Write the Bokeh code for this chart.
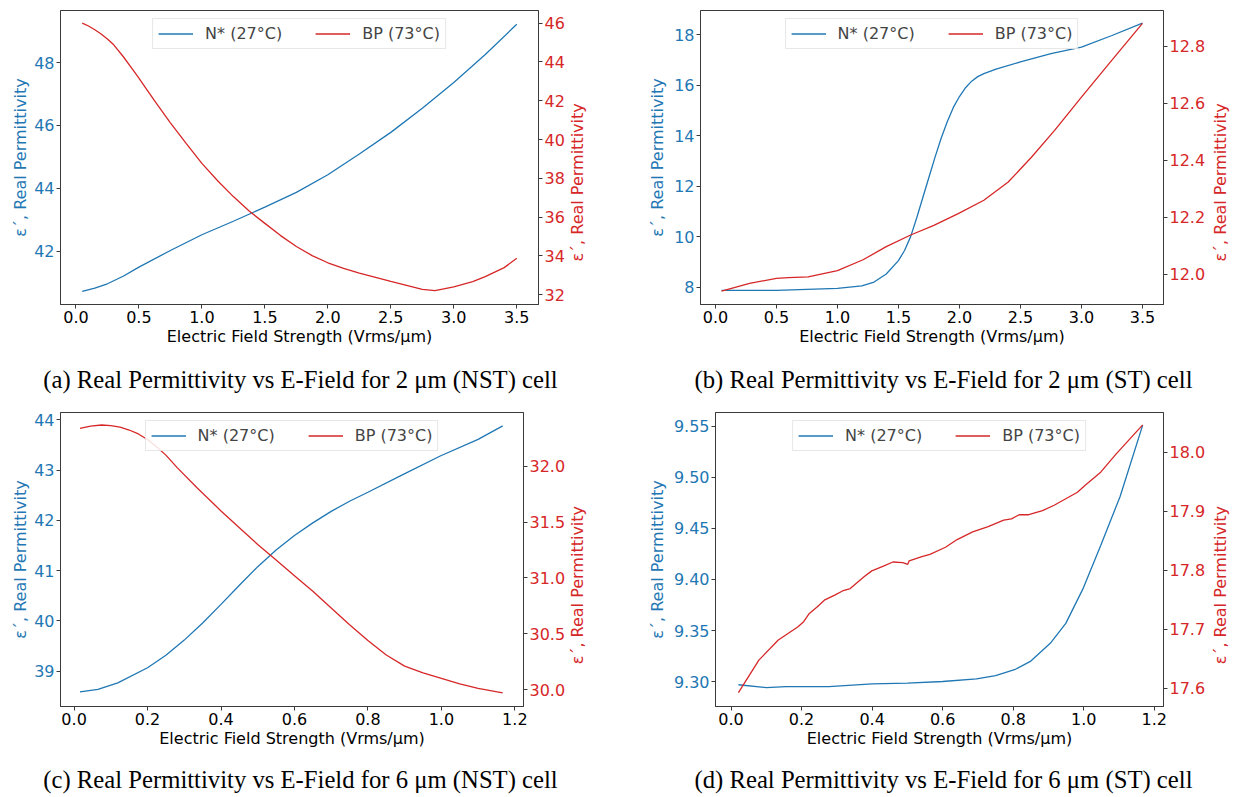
import math
from bokeh.plotting import figure
from bokeh.models import Range1d, LinearAxis, FixedTicker, Legend, LegendItem, PrintfTickFormatter, Label
from bokeh.layouts import column, row
from bokeh.embed import file_html
from bokeh.resources import INLINE

BLUE = "#1f77b4"
RED = "#d62728"

# ---------------- data ----------------
a_x_n = [0.05, 0.15, 0.25, 0.375, 0.5, 0.75, 1.0, 1.25, 1.5, 1.75, 2.0, 2.25, 2.5, 2.75, 3.0, 3.25, 3.5]
a_n = [40.72, 40.82, 40.96, 41.20, 41.49, 42.02, 42.52, 42.95, 43.40, 43.87, 44.43, 45.09, 45.78, 46.55,
       47.37, 48.26, 49.22]
a_x_bp = [0.05, 0.1, 0.15, 0.2, 0.25, 0.3, 0.375, 0.45, 0.5, 0.56, 0.625, 0.75, 0.875, 1.0, 1.125, 1.25,
          1.375, 1.5, 1.625, 1.75, 1.875, 2.0, 2.125, 2.25, 2.5, 2.75, 2.85, 3.0, 3.15, 3.25, 3.4, 3.5]
a_bp = [46.0, 45.85, 45.66, 45.44, 45.18, 44.88, 44.28, 43.62, 43.16, 42.6, 41.99, 40.86, 39.8, 38.77,
        37.88, 37.06, 36.32, 35.68, 35.05, 34.49, 34.02, 33.65, 33.36, 33.12, 32.69, 32.28, 32.22, 32.41,
        32.68, 32.94, 33.4, 33.88]

b_x_n = [0.05, 0.5, 1.0, 1.2, 1.3, 1.4, 1.5, 1.55, 1.6, 1.65, 1.7, 1.75, 1.8, 1.85, 1.9, 1.95, 2.0, 2.05,
         2.1, 2.15, 2.2, 2.3, 2.5, 2.75, 3.0, 3.25, 3.5]
b_n = [7.87, 7.87, 7.95, 8.05, 8.2, 8.52, 9.05, 9.45, 10.0, 10.75, 11.55, 12.35, 13.15, 13.9, 14.55,
       15.12, 15.55, 15.9, 16.16, 16.34, 16.46, 16.64, 16.92, 17.25, 17.51, 17.97, 18.46]
b_x_bp = [0.05, 0.28, 0.5, 0.6, 0.76, 1.0, 1.21, 1.4, 1.6, 1.79, 1.99, 2.2, 2.4, 2.59, 2.78, 3.0, 3.26, 3.5]
b_bp = [11.94, 11.967, 11.985, 11.987, 11.99, 12.012, 12.05, 12.096, 12.137, 12.171, 12.212, 12.259,
        12.323, 12.41, 12.504, 12.621, 12.756, 12.88]

c_x_n = [0.016, 0.065, 0.119, 0.2, 0.25, 0.3, 0.35, 0.4, 0.45, 0.5, 0.55, 0.6, 0.65, 0.7, 0.75, 0.8, 0.895,
         0.997, 1.1, 1.167]
c_n = [38.59, 38.64, 38.77, 39.07, 39.32, 39.62, 39.96, 40.33, 40.71, 41.08, 41.41, 41.70, 41.95, 42.18,
       42.38, 42.56, 42.91, 43.28, 43.61, 43.88]
c_x_bp = [0.016, 0.045, 0.075, 0.1, 0.125, 0.15, 0.175, 0.2, 0.226, 0.25, 0.28, 0.334, 0.4, 0.45, 0.5,
          0.55, 0.6, 0.65, 0.7, 0.75, 0.8, 0.85, 0.9, 0.95, 1.0, 1.05, 1.1, 1.167]
c_bp = [32.34, 32.36, 32.37, 32.365, 32.35, 32.325, 32.29, 32.24, 32.17, 32.10, 31.99, 31.81, 31.60,
        31.45, 31.30, 31.16, 31.02, 30.88, 30.73, 30.58, 30.44, 30.31, 30.21, 30.15, 30.10, 30.05,
        30.01, 29.97]

d_x_n = [0.021, 0.10, 0.156, 0.277, 0.4, 0.5, 0.6, 0.696, 0.75, 0.806, 0.85, 0.905, 0.949, 0.999, 1.048,
         1.103, 1.167]
d_n = [9.2968, 9.294, 9.2949, 9.2949, 9.2977, 9.2984, 9.300, 9.3026, 9.3058, 9.312, 9.320, 9.3374, 9.357,
       9.3918, 9.4334, 9.4814, 9.5513]
d_x_bp = [0.021, 0.079, 0.134, 0.189, 0.206, 0.222, 0.244, 0.266, 0.294, 0.316, 0.338, 0.377, 0.399, 0.432,
          0.459, 0.487, 0.501, 0.505, 0.541, 0.564, 0.608, 0.641, 0.685, 0.729, 0.773, 0.795, 0.817, 0.844,
          0.883, 0.916, 0.949, 0.982, 1.004, 1.048, 1.092, 1.167]
d_bp = [17.593, 17.648, 17.682, 17.704, 17.713, 17.727, 17.738, 17.75, 17.758, 17.765, 17.769, 17.789,
        17.799, 17.807, 17.814, 17.813, 17.810, 17.816, 17.823, 17.827, 17.839, 17.852, 17.865, 17.874,
        17.885, 17.887, 17.894, 17.894, 17.901, 17.910, 17.921, 17.932, 17.944, 17.966, 17.997, 18.046]

x_ticks_2um = [0.0, 0.5, 1.0, 1.5, 2.0, 2.5, 3.0, 3.5]
x_ticks_6um = [0.0, 0.2, 0.4, 0.6, 0.8, 1.0, 1.2]
a_left_ticks = [42, 44, 46, 48]
a_right_ticks = [32, 34, 36, 38, 40, 42, 44, 46]
b_left_ticks = [8, 10, 12, 14, 16, 18]
b_right_ticks = [12.0, 12.2, 12.4, 12.6, 12.8]
c_left_ticks = [39, 40, 41, 42, 43, 44]
c_right_ticks = [30.0, 30.5, 31.0, 31.5, 32.0]
d_left_ticks = [9.30, 9.35, 9.40, 9.45, 9.50, 9.55]
d_right_ticks = [17.6, 17.7, 17.8, 17.9, 18.0]

series_labels = ["N* (27°C)", "BP (73°C)"]
x_label = "Electric Field Strength (Vrms/μm)"
y_label = "ε´, Real Permittivity"
captions = [
    "(a) Real Permittivity vs E-Field for 2 μm (NST) cell",
    "(b) Real Permittivity vs E-Field for 2 μm (ST) cell",
    "(c) Real Permittivity vs E-Field for 6 μm (NST) cell",
    "(d) Real Permittivity vs E-Field for 6 μm (ST) cell",
]

FONT = "DejaVu Sans"
FS = "16px"
SPINE = "#3a3a3a"


def style_axis(ax, color_labels, color_text):
    ax.major_label_text_font = FONT
    ax.major_label_text_font_size = FS
    ax.major_label_text_color = color_labels
    ax.axis_label_text_font = FONT
    ax.axis_label_text_font_size = FS
    ax.axis_label_text_font_style = "normal"
    ax.axis_label_text_color = color_text
    ax.axis_line_color = SPINE
    ax.major_tick_line_color = SPINE
    ax.major_tick_in = 0
    ax.major_tick_out = 4
    ax.minor_tick_line_color = None
    ax.major_label_standoff = 2
    ax.axis_label_standoff = 4


def blank(w, h, bt=0, bb=0):
    s = figure(width=w, height=h, x_range=Range1d(0, w), y_range=Range1d(0, h),
               output_backend="svg", toolbar_location=None,
               x_axis_location=None, y_axis_location=None,
               min_border_left=0, min_border_right=0, min_border_top=bt, min_border_bottom=bb)
    s.grid.visible = False
    s.outline_line_color = None
    s.background_fill_color = "white"
    s.border_fill_color = "white"
    return s


def panel(xn, yn, xb, yb, xr, yl, yr, xt, lt, rt, lfmt, rfmt, xfmt, w, h, bl, br, bt, bb, lstand):
    p = figure(width=w, height=h, x_range=Range1d(*xr), y_range=Range1d(*yl),
               output_backend="svg", toolbar_location=None,
               min_border_left=bl, min_border_right=br, min_border_top=bt, min_border_bottom=bb)
    p.extra_y_ranges = {"r": Range1d(*yr)}
    p.xgrid.visible = False
    p.ygrid.visible = False
    p.outline_line_color = SPINE
    p.outline_line_width = 1
    p.background_fill_color = "white"
    p.border_fill_color = "white"

    r1 = p.line(xn, yn, line_color=BLUE, line_width=1.3)
    r2 = p.line(xb, yb, line_color=RED, line_width=1.3, y_range_name="r")

    xa = p.xaxis[0]
    xa.ticker = FixedTicker(ticks=xt)
    xa.formatter = PrintfTickFormatter(format=xfmt)
    xa.axis_label = x_label
    style_axis(xa, "black", "black")
    xa.axis_label_standoff = 1

    ya = p.yaxis[0]
    ya.ticker = FixedTicker(ticks=lt)
    ya.formatter = PrintfTickFormatter(format=lfmt)
    ya.axis_label = y_label
    style_axis(ya, BLUE, BLUE)
    ya.axis_label_standoff = lstand

    ra = LinearAxis(y_range_name="r", ticker=FixedTicker(ticks=rt),
                    formatter=PrintfTickFormatter(format=rfmt))
    style_axis(ra, RED, RED)
    p.add_layout(ra, "right")

    leg = Legend(items=[LegendItem(label=series_labels[0], renderers=[r1]),
                        LegendItem(label=series_labels[1], renderers=[r2])],
                 location="top_center", orientation="horizontal")
    leg.label_text_font = FONT
    leg.label_text_font_size = FS
    leg.glyph_width = 35
    leg.glyph_height = 17
    leg.label_height = 17
    leg.label_standoff = 12
    leg.spacing = 33
    leg.padding = 5
    leg.margin = 8
    leg.border_line_color = "#d0d0d0"
    leg.border_line_width = 1
    leg.background_fill_alpha = 0.85
    p.add_layout(leg)
    return p


def right_label_strip(w, h, bt, bb, off):
    # narrow strip holding the right-hand axis title, reading bottom-to-top
    s = blank(w, h, bt, bb)
    s.add_layout(Label(x=0, y=(h - bt - bb) / 2, x_offset=off, text=y_label, angle=math.pi / 2,
                       text_align="center", text_baseline="middle",
                       text_font=FONT, text_font_size=FS, text_color=RED))
    return s


def caption_strip(w, h, text, cx, cy):
    s = blank(w, h)
    s.add_layout(Label(x=cx, y=cy, text=text, text_align="center", text_baseline="middle",
                       text_font="Liberation Serif", text_font_size="24.7px", text_color="black"))
    return s


TOP_H = 354
BOT_H = 356

pa = panel(a_x_n, a_n, a_x_bp, a_bp, (-0.1225, 3.6725), (40.30, 49.66), (31.50, 46.65),
           x_ticks_2um, a_left_ticks, a_right_ticks, "%d", "%d", "%.1f",
           567, TOP_H, 60, 28, 10, 50, 1)
sa = right_label_strip(49, TOP_H, 10, 50, 10)
pb = panel(b_x_n, b_n, b_x_bp, b_bp, (-0.1225, 3.6725), (7.31, 18.96), (11.893, 12.925),
           x_ticks_2um, b_left_ticks, b_right_ticks, "%d", "%.1f", "%.1f",
           592, TOP_H, 84, 44, 10, 50, 4)
sb = right_label_strip(25, TOP_H, 10, 50, 12)
pc = panel(c_x_n, c_n, c_x_bp, c_bp, (-0.037, 1.2236), (38.30, 44.145), (29.848, 32.482),
           x_ticks_6um, c_left_ticks, c_right_ticks, "%d", "%.1f", "%.1f",
           568, BOT_H, 60, 43, 12, 50, 1)
sc = right_label_strip(48, BOT_H, 12, 50, 9)
pd_ = panel(d_x_n, d_n, d_x_bp, d_bp, (-0.044, 1.226), (9.2755, 9.5637), (17.5695, 18.067),
            x_ticks_6um, d_left_ticks, d_right_ticks, "%.2f", "%.1f", "%.1f",
            592, BOT_H, 99, 44, 12, 50, 4)
sd = right_label_strip(25, BOT_H, 12, 50, 12)

cap_a = caption_strip(616, 46, captions[0], 300, 21)
cap_b = caption_strip(617, 46, captions[1], 327, 21)
cap_c = caption_strip(616, 41, captions[2], 300, 18)
cap_d = caption_strip(617, 41, captions[3], 327, 18)

layout = column(row(pa, sa, pb, sb), row(cap_a, cap_b),
                row(pc, sc, pd_, sd), row(cap_c, cap_d))
open("out.html", "w").write(file_html(layout, INLINE))
